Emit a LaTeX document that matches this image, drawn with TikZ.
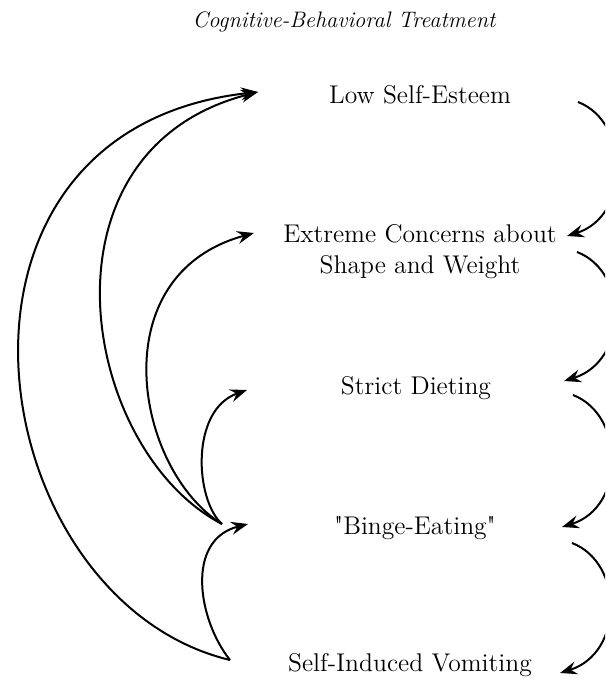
\documentclass[tikz,border=0pt]{standalone}
\usepackage{tikz}
\usetikzlibrary{arrows.meta}

\begin{document}
\begin{tikzpicture}[x=0.5pt,y=-0.5pt,
    stage/.style={font=\fontsize{12.8}{15.5}\selectfont,align=center,inner sep=0pt},
    link/.style={line width=1pt,-{Stealth[length=8.5pt,width=6.5pt,inset=3pt]}}]
    \useasboundingbox (0,0) rectangle (605,684);
    \clip (0,0) rectangle (605,684);
    \node[font=\fontsize{11.2}{13}\selectfont\itshape,inner sep=0pt] (title) at (344,22) {Cognitive-Behavioral Treatment};
    \node[stage] (esteem) at (420,95) {Low Self-Esteem};
    \node[stage] (concern) at (420,252) {Extreme Concerns about\\Shape and Weight};
    \node[stage] (dieting) at (416,388) {Strict Dieting};
    \node[stage] (binge) at (415,528) {\textquotedbl Binge-Eating\textquotedbl};
    \node[stage] (vomit) at (410,665) {Self-Induced Vomiting};
    % left side: arrows back up the chain
    \coordinate (bingeJ) at (222,524);
    \coordinate (vomitJ) at (230,660);
    \coordinate (esteemL) at (258,92);
    \coordinate (concernL) at (254,233);
    \coordinate (dietingL) at (247,390);
    \coordinate (bingeL) at (248,524);
    \draw[link] (vomitJ) .. controls (-20,600) and (-90,130) .. (esteemL);
    \draw[link] (bingeJ) .. controls (80,450) and (30,150) .. (esteemL);
    \draw[link] (bingeJ) .. controls (135,470) and (100,275) .. (concernL);
    \draw[link] (bingeJ) .. controls (195,500) and (190,410) .. (dietingL);
    \draw[link] (vomitJ) .. controls (198,620) and (185,540) .. (bingeL);
    % right side: arrows down the chain
    \coordinate (esteemR) at (578,102);
    \coordinate (concernR) at (577,252);
    \coordinate (dietingR) at (573,395);
    \coordinate (bingeR) at (572,543);
    \coordinate (concernT) at (567,236);
    \coordinate (dietingT) at (564,381);
    \coordinate (bingeT) at (562,527);
    \coordinate (vomitT) at (560,673);
    \draw[link] (esteemR) .. controls +(52,20) and +(64,-20) .. (concernT);
    \draw[link] (concernR) .. controls +(52,20) and +(64,-20) .. (dietingT);
    \draw[link] (dietingR) .. controls +(52,20) and +(64,-20) .. (bingeT);
    \draw[link] (bingeR) .. controls +(52,20) and +(64,-20) .. (vomitT);
\end{tikzpicture}
\end{document}
